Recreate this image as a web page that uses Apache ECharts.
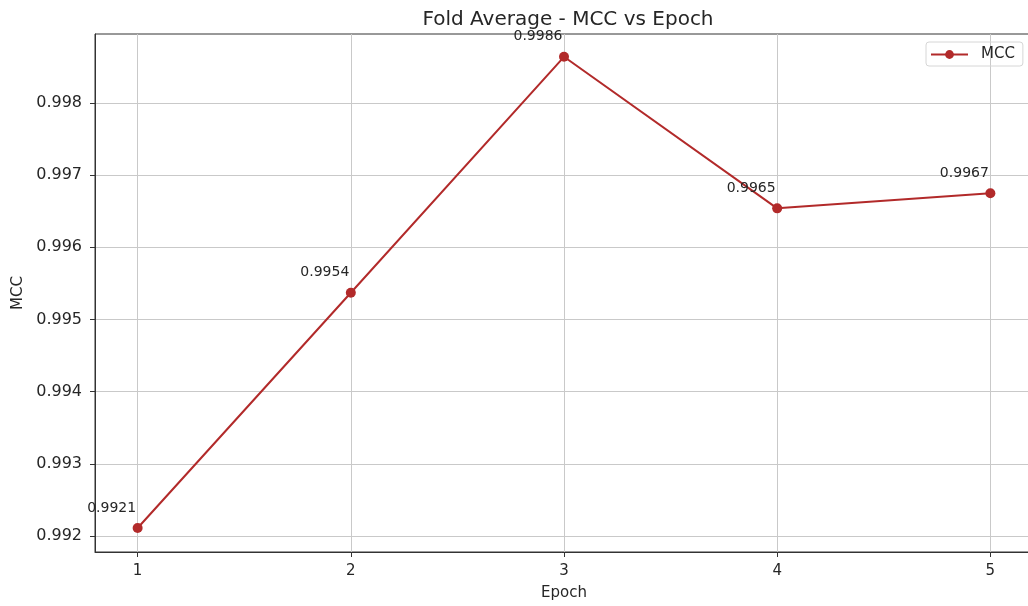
<!DOCTYPE html>
<html><head><meta charset="utf-8">
<script src="https://cdn.jsdelivr.net/npm/echarts@6/dist/echarts.min.js"></script>
<style>html,body{margin:0;padding:0;background:#fff}#c{width:1028px;height:606px}</style>
</head><body><div id="c"></div>
<script>
const epochs = [1, 2, 3, 4, 5];
const mcc = [0.99211, 0.99537, 0.99864, 0.99654, 0.99675];
const mccLabels = ['0.9921', '0.9954', '0.9986', '0.9965', '0.9967'];
const yTicks = [0.992, 0.993, 0.994, 0.995, 0.996, 0.997, 0.998];
const xTicks = [1, 2, 3, 4, 5];

const font = 'DejaVu Sans';
const txt = '#262626';
const red = '#b22a2a';
const chart = echarts.init(document.getElementById('c'), null, {renderer: 'canvas'});
chart.setOption({
  animation: false,
  backgroundColor: '#fff',
  textStyle: {fontFamily: font},
  title: {
    text: 'Fold Average - MCC vs Epoch',
    left: 563, top: 5, textAlign: 'center',
    textStyle: {fontFamily: font, fontSize: 20, fontWeight: 'normal', color: txt}
  },
  legend: {
    data: ['MCC'],
    left: 926, top: 42,
    padding: [5, 8, 4, 4],
    itemWidth: 37, itemHeight: 11, itemGap: 10,
    borderColor: '#d6d6d6', borderWidth: 1, borderRadius: 3,
    textStyle: {fontFamily: font, fontSize: 15, color: txt, padding: [0, 0, 0, 8]}
  },
  grid: {left: 95, top: 34, width: 938, bottom: 54, show: true, borderColor: '#333', borderWidth: 1, outerBoundsMode: 'none', containLabel: false},
  xAxis: {
    type: 'value', min: 0.8, max: 5.2,
    name: 'Epoch', nameLocation: 'middle', nameGap: 34,
    nameTextStyle: {fontFamily: font, fontSize: 15, color: txt},
    axisLine: {show: true, onZero: false, lineStyle: {color: '#333', width: 1}},
    axisTick: {show: true, length: 5, lineStyle: {color: '#333'}, customValues: xTicks},
    axisLabel: {fontFamily: font, fontSize: 15, color: txt, margin: 12, customValues: xTicks, formatter: v => String(v)},
    splitLine: {show: true, lineStyle: {color: '#c9c9c9', width: 1}}
  },
  yAxis: {
    type: 'value', min: 0.991778, max: 0.998956,
    name: 'MCC', nameLocation: 'middle', nameGap: 63, nameRotate: 90,
    nameTextStyle: {fontFamily: font, fontSize: 15, color: txt},
    axisLine: {show: true, onZero: false, lineStyle: {color: '#333', width: 1}},
    axisTick: {show: true, length: 5, lineStyle: {color: '#333'}, customValues: yTicks},
    axisLabel: {fontFamily: font, fontSize: 16, color: txt, margin: 13, customValues: yTicks, formatter: v => v.toFixed(3)},
    splitLine: {show: true, lineStyle: {color: '#c9c9c9', width: 1}}
  },
  series: [{
    name: 'MCC', type: 'line',
    data: epochs.map((e, i) => [e, mcc[i]]),
    symbol: 'circle', symbolSize: 10,
    lineStyle: {color: red, width: 2},
    itemStyle: {color: red},
    label: {
      show: true, position: 'inside', offset: [-26, -20],
      fontFamily: font, fontSize: 14, color: txt,
      formatter: p => mccLabels[p.dataIndex]
    }
  }]
});
</script></body></html>
